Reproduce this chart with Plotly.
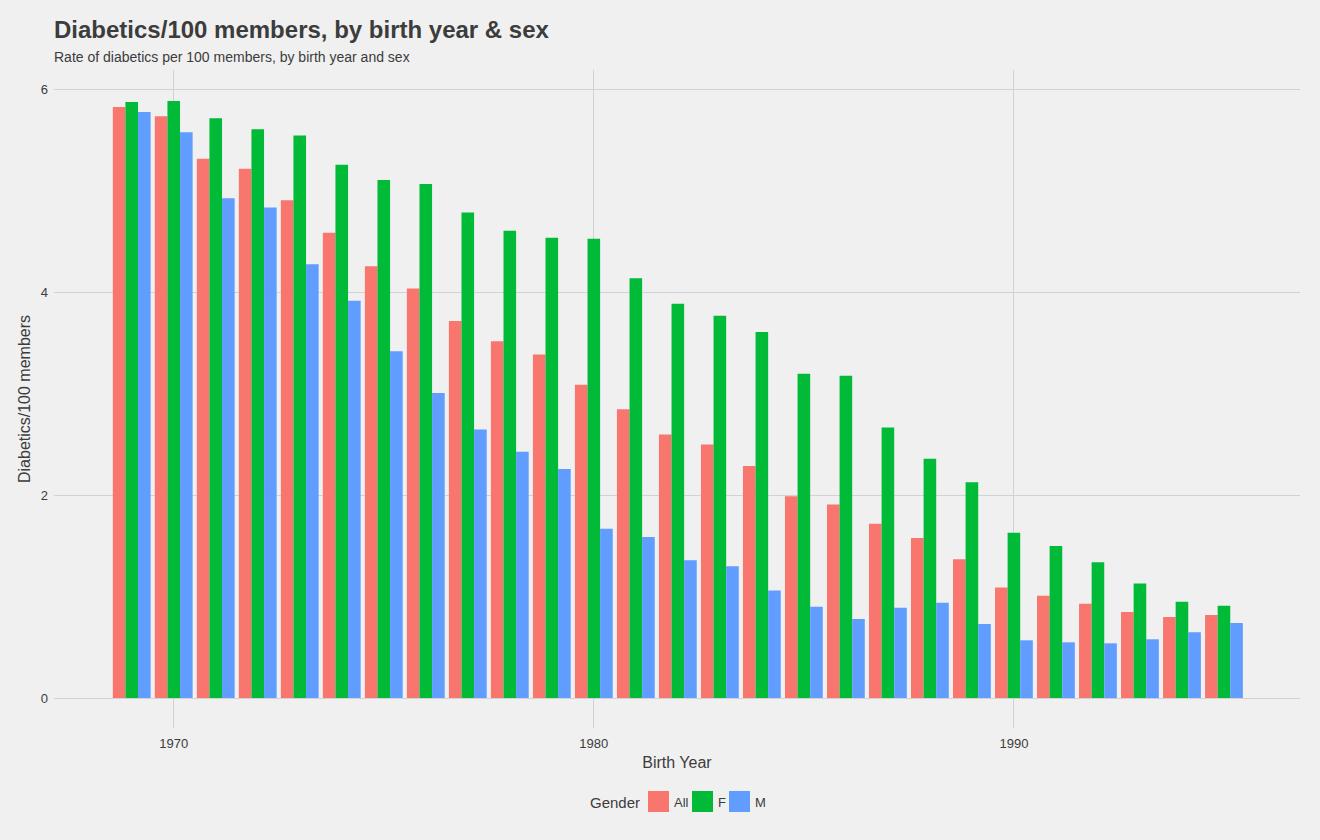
import plotly.graph_objects as go

years = list(range(1969, 1996))
all_vals = [5.83, 5.74, 5.32, 5.22, 4.91, 4.59, 4.26, 4.04, 3.72, 3.52, 3.39, 3.09, 2.85, 2.60,
            2.50, 2.29, 1.99, 1.91, 1.72, 1.58, 1.37, 1.09, 1.01, 0.93, 0.85, 0.80, 0.82]
f_vals = [5.88, 5.89, 5.72, 5.61, 5.55, 5.26, 5.11, 5.07, 4.79, 4.61, 4.54, 4.53, 4.14, 3.89,
          3.77, 3.61, 3.20, 3.18, 2.67, 2.36, 2.13, 1.63, 1.50, 1.34, 1.13, 0.95, 0.91]
m_vals = [5.78, 5.58, 4.93, 4.84, 4.28, 3.92, 3.42, 3.01, 2.65, 2.43, 2.26, 1.67, 1.59, 1.36,
          1.30, 1.06, 0.90, 0.78, 0.89, 0.94, 0.73, 0.57, 0.55, 0.54, 0.58, 0.65, 0.74]
series_names = ["All", "F", "M"]
series_colors = ["#F8766D", "#00BA38", "#619CFF"]
x_ticks = [1970, 1980, 1990]
y_ticks = [0, 2, 4, 6]

FONT = "Liberation Sans, Arial, sans-serif"
TXT = "#3C3C3C"
W, H = 1320, 840
ML, MR, MT, MB = 54, 20, 70, 112
PW, PH = W - ML - MR, H - MT - MB


def px_x(px):
    return (px - ML) / PW


def px_y(py):
    return (H - MB - py) / PH


fig = go.Figure()
for name, vals, col in zip(series_names, [all_vals, f_vals, m_vals], series_colors):
    fig.add_trace(go.Bar(x=years, y=vals, name=name, showlegend=False,
                         marker=dict(color=col, line=dict(width=0))))

# custom legend (large square keys like the reference)
annotations = [
    dict(text="Rate of diabetics per 100 members, by birth year and sex",
         xref="paper", yref="paper", x=0, xanchor="left", xshift=-2,
         y=px_y(57), yanchor="middle", showarrow=False,
         font=dict(size=14, color=TXT, family=FONT)),
    dict(text="Gender", xref="paper", yref="paper", x=px_x(642), xanchor="right",
         y=px_y(802), yanchor="middle", showarrow=False,
         font=dict(size=15, color=TXT, family=FONT)),
]
shapes = []
key_left = [648, 692, 729]
for name, col, kl in zip(series_names, series_colors, key_left):
    shapes.append(dict(type="rect", xref="paper", yref="paper",
                       x0=px_x(kl), x1=px_x(kl + 21), y0=px_y(812), y1=px_y(791),
                       fillcolor=col, line=dict(width=0)))
    annotations.append(dict(text=name, xref="paper", yref="paper", x=px_x(kl + 24),
                            xanchor="left", y=px_y(802), yanchor="middle", showarrow=False,
                            font=dict(size=13, color=TXT, family=FONT)))

fig.update_layout(
    width=W, height=H,
    paper_bgcolor="#F0F0F0", plot_bgcolor="#F0F0F0",
    barmode="group", bargap=0.1, bargroupgap=0,
    margin=dict(l=ML, r=MR, t=MT, b=MB),
    font=dict(family=FONT, color=TXT, size=12),
    showlegend=False,
    title=dict(text="<b>Diabetics/100 members, by birth year & sex</b>",
               x=ML / W, xanchor="left", y=1 - 30 / H, yanchor="middle",
               font=dict(size=24, color=TXT, family=FONT)),
    annotations=annotations,
    shapes=shapes,
    xaxis=dict(range=[1967.15, 1996.81], tickvals=x_ticks, ticktext=[str(v) for v in x_ticks],
               showgrid=True, gridcolor="#D2D2D2", gridwidth=1, zeroline=False,
               showline=False, ticks="", tickfont=dict(size=13, color=TXT),
               ticklabelstandoff=6,
               title=dict(text="Birth Year", font=dict(size=16, color=TXT), standoff=6)),
    yaxis=dict(range=[-0.295, 6.195], tickvals=y_ticks, ticktext=[str(v) for v in y_ticks],
               showgrid=True, gridcolor="#D2D2D2", gridwidth=1, zeroline=False,
               showline=False, ticks="", tickfont=dict(size=13, color=TXT),
               ticklabelstandoff=5,
               title=dict(text="Diabetics/100 members", font=dict(size=16, color=TXT), standoff=6)),
)

fig.write_html("out.html", config={"displayModeBar": False},
               post_script="document.body.style.margin='0';")
